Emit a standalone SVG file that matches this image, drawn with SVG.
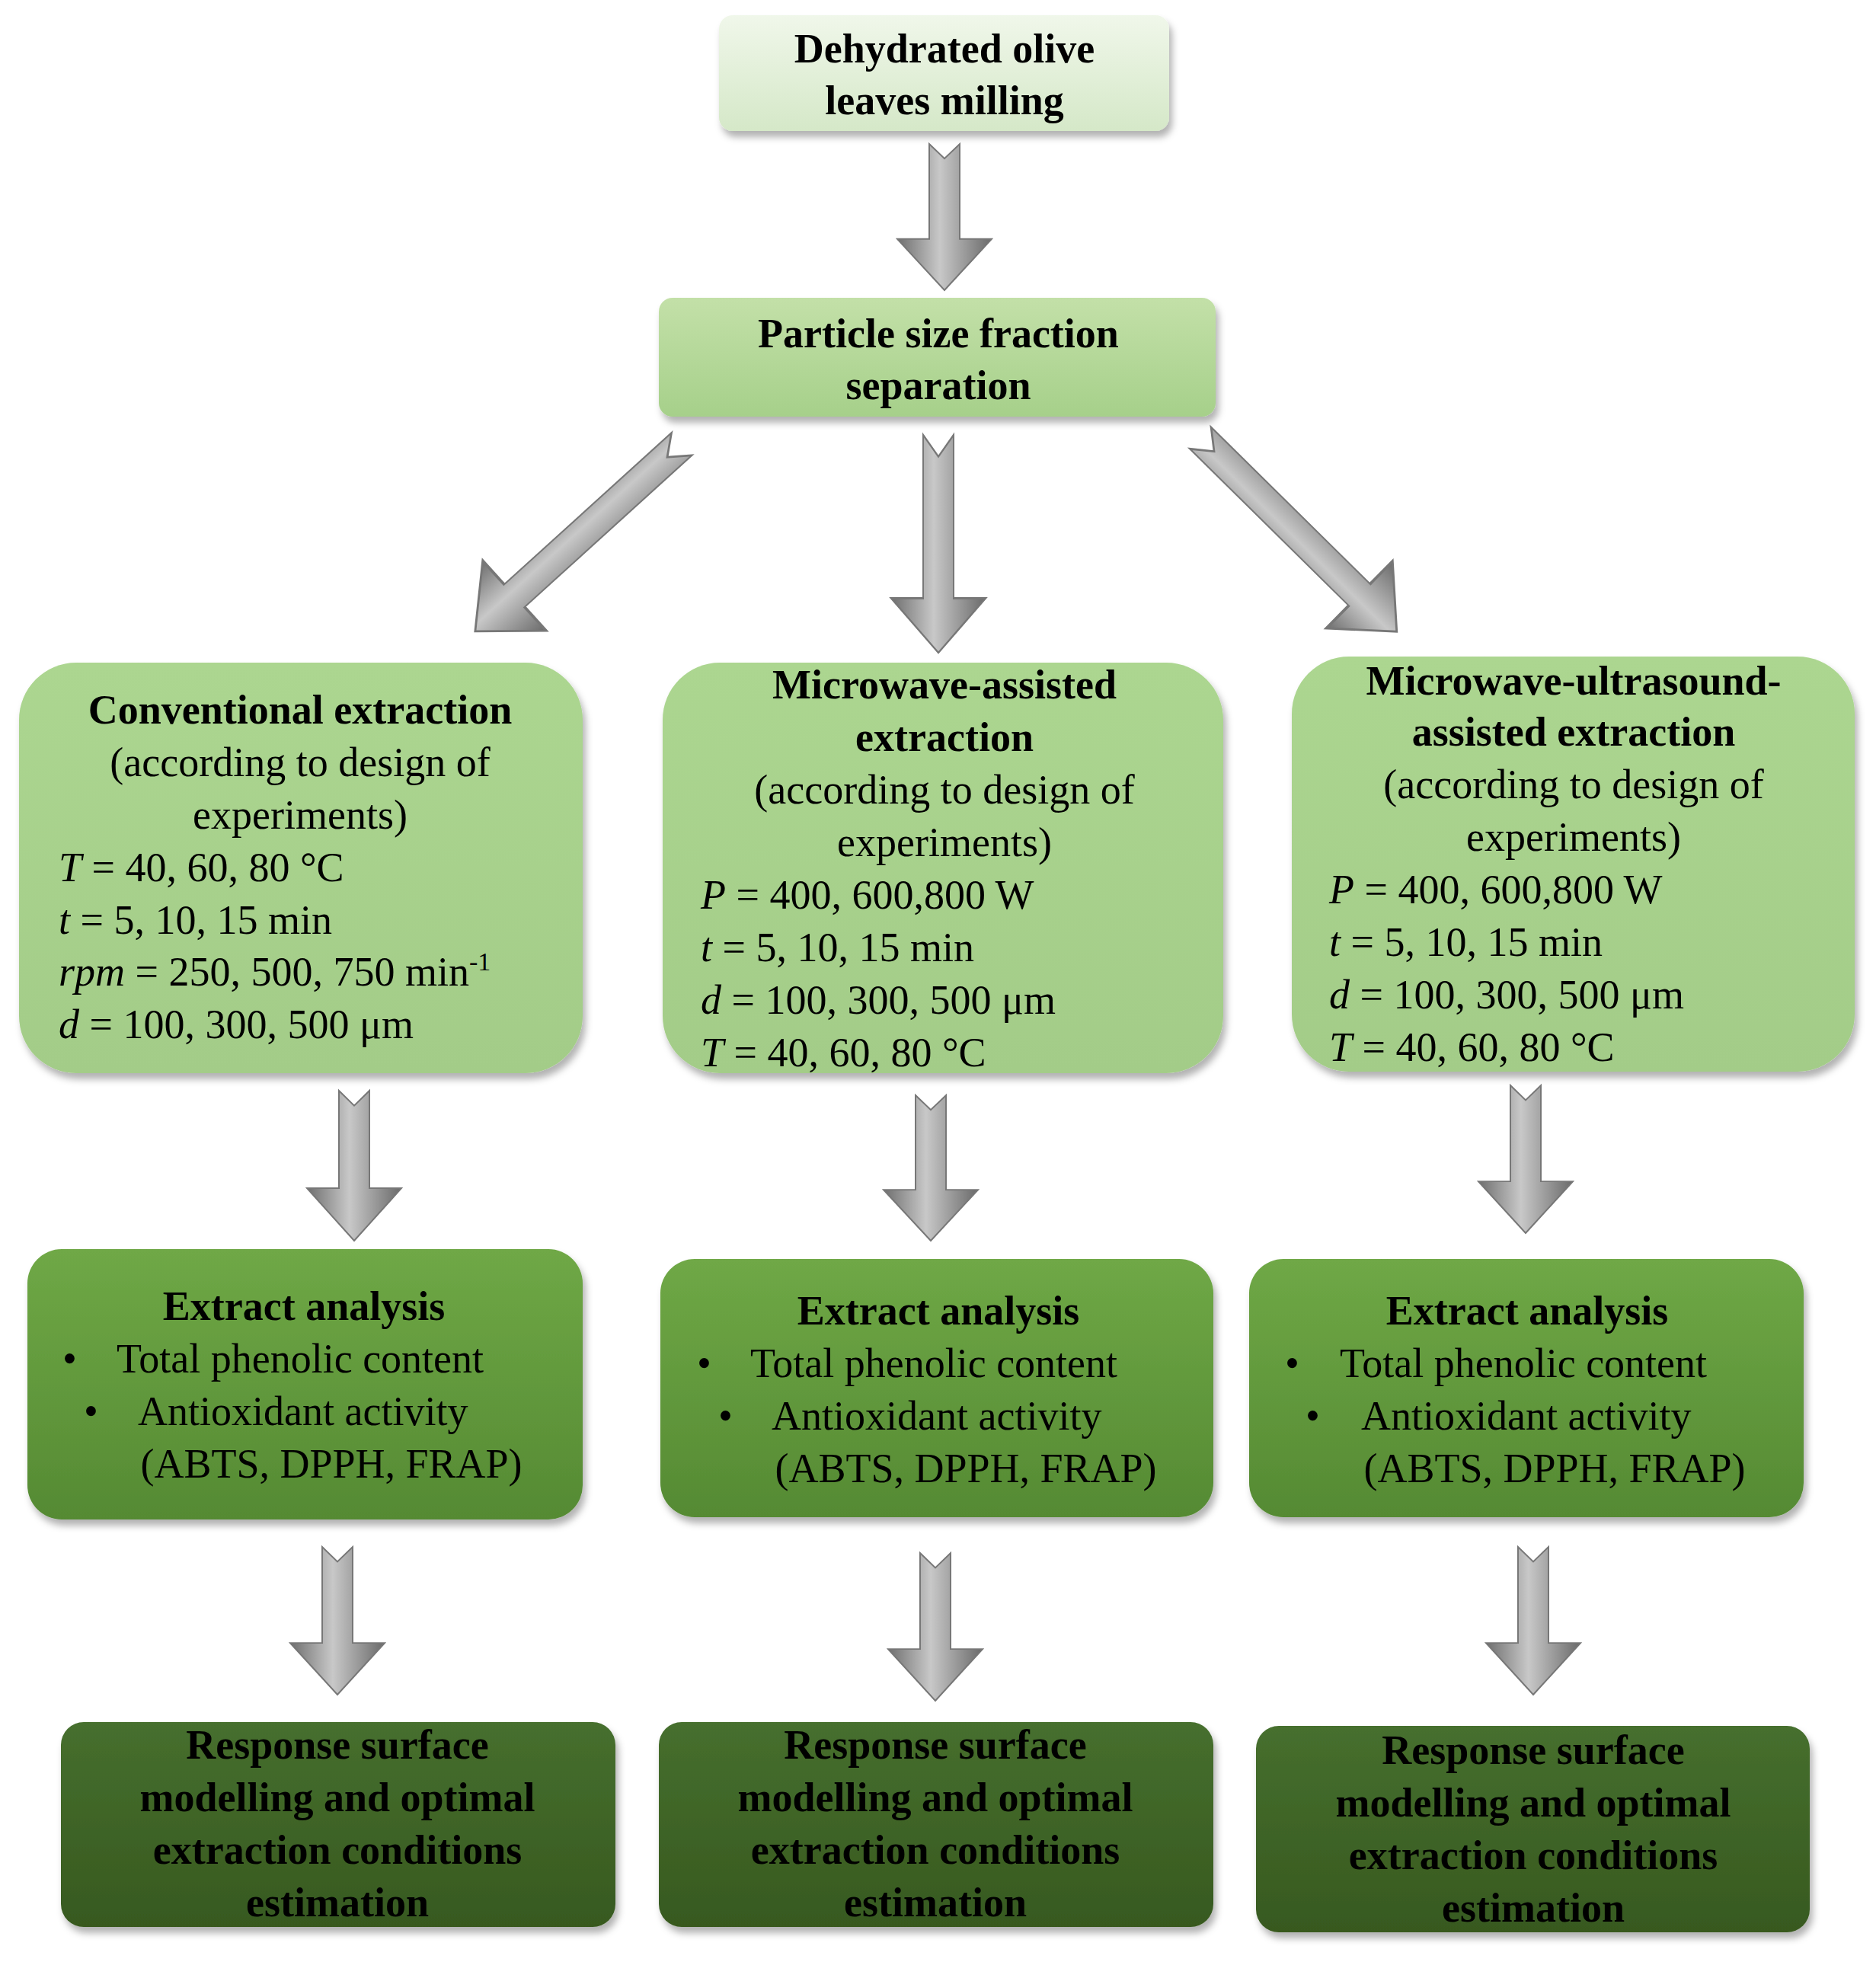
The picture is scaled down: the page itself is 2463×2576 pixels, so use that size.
<svg xmlns="http://www.w3.org/2000/svg" width="2463" height="2576" viewBox="0 0 2463 2576">
<defs>
<linearGradient id="g1" x1="0" y1="0" x2="0" y2="1"><stop offset="0" stop-color="#f0f7ea"/><stop offset="1" stop-color="#d5e8c8"/></linearGradient>
<linearGradient id="g2" x1="0" y1="0" x2="0" y2="1"><stop offset="0" stop-color="#c3e0a8"/><stop offset="1" stop-color="#a6d08a"/></linearGradient>
<linearGradient id="g3" x1="0" y1="0" x2="0" y2="1"><stop offset="0" stop-color="#acd690"/><stop offset="1" stop-color="#a3cc88"/></linearGradient>
<linearGradient id="g4" x1="0" y1="0" x2="0" y2="1"><stop offset="0" stop-color="#6fa846"/><stop offset="1" stop-color="#558a33"/></linearGradient>
<linearGradient id="g5" x1="0" y1="0" x2="0" y2="1"><stop offset="0" stop-color="#466f2e"/><stop offset="1" stop-color="#37591f"/></linearGradient>
<linearGradient id="ga" x1="0" y1="0" x2="1" y2="0"><stop offset="0" stop-color="#6e6e6e"/><stop offset="0.45" stop-color="#c8c8c8"/><stop offset="1" stop-color="#6a6a6a"/></linearGradient>
<filter id="sh" x="-5%" y="-5%" width="115%" height="120%"><feDropShadow dx="4" dy="8" stdDeviation="5" flood-color="#000" flood-opacity="0.3"/></filter>
</defs>
<style>
text{font-family:"Liberation Serif","DejaVu Serif",serif;font-size:54px;fill:#000}
.b{font-weight:bold}
.c{text-anchor:middle}
.i{font-style:italic}
.arr{fill:url(#ga);stroke:#777;stroke-width:2}
</style>
<g id="connectors">
<path class="arr" transform="translate(1240,189) scale(1,0.96)" d="M-20,0 L0,20 L20,0 L20,130 L62,130 L0,200 L-62,130 L-20,130 Z"/>
<path class="arr" transform="translate(1232,571) scale(1,1.43)" d="M-20,0 L0,20 L20,0 L20,150 L62,150 L0,200 L-62,150 L-20,150 Z"/>
<path class="arr" transform="translate(895,583) rotate(47.8) scale(1,1.83)" d="M-20,0 L0,14 L20,0 L20,162 L62,162 L0,200 L-62,162 L-20,162 Z"/>
<path class="arr" transform="translate(1576,575) rotate(-45.4) scale(1,1.81)" d="M-20,0 L0,14 L20,0 L20,162 L62,162 L0,200 L-62,162 L-20,162 Z"/>
<path class="arr" transform="translate(465,1432) scale(1,0.985)" d="M-20,0 L0,20 L20,0 L20,130 L62,130 L0,200 L-62,130 L-20,130 Z"/>
<path class="arr" transform="translate(1222,1438) scale(1,0.955)" d="M-20,0 L0,20 L20,0 L20,130 L62,130 L0,200 L-62,130 L-20,130 Z"/>
<path class="arr" transform="translate(2003,1425) scale(1,0.97)" d="M-20,0 L0,20 L20,0 L20,130 L62,130 L0,200 L-62,130 L-20,130 Z"/>
<path class="arr" transform="translate(443,2031) scale(1,0.97)" d="M-20,0 L0,20 L20,0 L20,130 L62,130 L0,200 L-62,130 L-20,130 Z"/>
<path class="arr" transform="translate(1228,2039) scale(1,0.97)" d="M-20,0 L0,20 L20,0 L20,130 L62,130 L0,200 L-62,130 L-20,130 Z"/>
<path class="arr" transform="translate(2013,2031) scale(1,0.97)" d="M-20,0 L0,20 L20,0 L20,130 L62,130 L0,200 L-62,130 L-20,130 Z"/>
</g>
<g id="n1"><rect x="944" y="20" width="591" height="152" rx="18" fill="url(#g1)" filter="url(#sh)"/>
<text class="b c" x="1240" y="82">Dehydrated olive</text><text class="b c" x="1240" y="150">leaves milling</text></g>
<g id="n2"><rect x="865" y="391" width="731" height="156" rx="18" fill="url(#g2)" filter="url(#sh)"/>
<text class="b c" x="1232" y="456">Particle size fraction</text><text class="b c" x="1232" y="524">separation</text></g>
<g id="n3"><rect x="25" y="870" width="740" height="539" rx="75" fill="url(#g3)" filter="url(#sh)"/>
<text class="b c" x="394" y="950">Conventional extraction</text>
<text class="c" x="394" y="1019">(according to design of</text>
<text class="c" x="394" y="1088">experiments)</text>
<text x="77" y="1157"><tspan class="i">T</tspan> = 40, 60, 80 °C</text>
<text x="77" y="1226"><tspan class="i">t</tspan> = 5, 10, 15 min</text>
<text x="77" y="1294"><tspan class="i">rpm</tspan> = 250, 500, 750 min<tspan dy="-20" font-size="34">-1</tspan></text>
<text x="77" y="1363"><tspan class="i">d</tspan> = 100, 300, 500 μm</text></g>
<g id="n4"><rect x="870" y="870" width="736" height="539" rx="75" fill="url(#g3)" filter="url(#sh)"/>
<text class="b c" x="1240" y="917">Microwave-assisted</text>
<text class="b c" x="1240" y="986">extraction</text>
<text class="c" x="1240" y="1055">(according to design of</text>
<text class="c" x="1240" y="1124">experiments)</text>
<text x="920" y="1193"><tspan class="i">P</tspan> = 400, 600,800 W</text>
<text x="920" y="1262"><tspan class="i">t</tspan> = 5, 10, 15 min</text>
<text x="920" y="1331"><tspan class="i">d</tspan> = 100, 300, 500 μm</text>
<text x="920" y="1400"><tspan class="i">T</tspan> = 40, 60, 80 °C</text></g>
<g id="n5"><rect x="1696" y="862" width="739" height="545" rx="75" fill="url(#g3)" filter="url(#sh)"/>
<text class="b c" x="2066" y="912">Microwave-ultrasound-</text>
<text class="b c" x="2066" y="979">assisted extraction</text>
<text class="c" x="2066" y="1048">(according to design of</text>
<text class="c" x="2066" y="1117">experiments)</text>
<text x="1745" y="1186"><tspan class="i">P</tspan> = 400, 600,800 W</text>
<text x="1745" y="1255"><tspan class="i">t</tspan> = 5, 10, 15 min</text>
<text x="1745" y="1324"><tspan class="i">d</tspan> = 100, 300, 500 μm</text>
<text x="1745" y="1393"><tspan class="i">T</tspan> = 40, 60, 80 °C</text></g>
<g id="n6"><rect x="36" y="1640" width="729" height="355" rx="45" fill="url(#g4)" filter="url(#sh)"/>
<text class="b c" x="399" y="1733">Extract analysis</text>
<text x="82" y="1802">•</text><text x="153" y="1802">Total phenolic content</text>
<text x="110" y="1871">•</text><text x="181" y="1871">Antioxidant activity</text>
<text class="c" x="435" y="1940">(ABTS, DPPH, FRAP)</text></g>
<g id="n7"><rect x="867" y="1653" width="726" height="339" rx="45" fill="url(#g4)" filter="url(#sh)"/>
<text class="b c" x="1232" y="1739">Extract analysis</text>
<text x="915" y="1808">•</text><text x="985" y="1808">Total phenolic content</text>
<text x="943" y="1877">•</text><text x="1013" y="1877">Antioxidant activity</text>
<text class="c" x="1268" y="1946">(ABTS, DPPH, FRAP)</text></g>
<g id="n8"><rect x="1640" y="1653" width="728" height="339" rx="45" fill="url(#g4)" filter="url(#sh)"/>
<text class="b c" x="2005" y="1739">Extract analysis</text>
<text x="1687" y="1808">•</text><text x="1759" y="1808">Total phenolic content</text>
<text x="1714" y="1877">•</text><text x="1787" y="1877">Antioxidant activity</text>
<text class="c" x="2041" y="1946">(ABTS, DPPH, FRAP)</text></g>
<g id="n9"><rect x="80" y="2261" width="728" height="269" rx="30" fill="url(#g5)" filter="url(#sh)"/>
<text class="b c" x="443" y="2309">Response surface</text><text class="b c" x="443" y="2378">modelling and optimal</text>
<text class="b c" x="443" y="2447">extraction conditions</text><text class="b c" x="443" y="2516">estimation</text></g>
<g id="n10"><rect x="865" y="2261" width="728" height="269" rx="30" fill="url(#g5)" filter="url(#sh)"/>
<text class="b c" x="1228" y="2309">Response surface</text><text class="b c" x="1228" y="2378">modelling and optimal</text>
<text class="b c" x="1228" y="2447">extraction conditions</text><text class="b c" x="1228" y="2516">estimation</text></g>
<g id="n11"><rect x="1649" y="2266" width="727" height="271" rx="30" fill="url(#g5)" filter="url(#sh)"/>
<text class="b c" x="2013" y="2316">Response surface</text><text class="b c" x="2013" y="2385">modelling and optimal</text>
<text class="b c" x="2013" y="2454">extraction conditions</text><text class="b c" x="2013" y="2523">estimation</text></g>
</svg>
